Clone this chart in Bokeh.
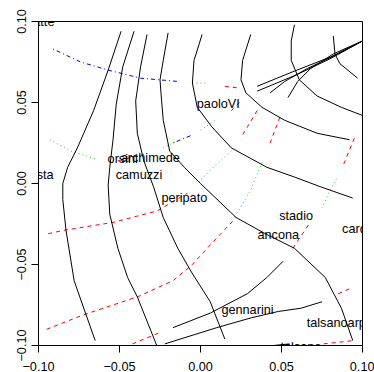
from bokeh.plotting import figure
from bokeh.models import FixedTicker, CustomJSTickFormatter, Range1d, ColumnDataSource
from bokeh.core.properties import value
from bokeh.embed import file_html
from bokeh.resources import INLINE

# ---- axis ticks ----
tick_values = [-0.10, -0.05, 0.00, 0.05, 0.10]
tick_labels = ["\u22120.10", "\u22120.05", "0.00", "0.05", "0.10"]

# ---- black solid curves ----
a_x = [-0.049, -0.057, -0.066, -0.076, -0.082, -0.085, -0.085, -0.083, -0.078, -0.071, -0.065]
a_y = [0.094, 0.070, 0.045, 0.022, 0.010, 0.000, -0.010, -0.029, -0.060, -0.080, -0.097]
b_x = [-0.041, -0.048, -0.052, -0.054, -0.056, -0.057, -0.056, -0.051, -0.045, -0.039, -0.033, -0.027]
b_y = [0.094, 0.072, 0.049, 0.027, 0.010, -0.001, -0.019, -0.040, -0.058, -0.070, -0.085, -0.100]
c_x = [-0.033, -0.037, -0.040, -0.039, -0.035, -0.029, -0.023, -0.014, -0.006, 0.006, 0.015]
c_y = [0.092, 0.072, 0.051, 0.031, 0.014, -0.002, -0.021, -0.040, -0.054, -0.073, -0.096]
d_x = [-0.020, -0.023, -0.025, -0.024, -0.023, -0.019, -0.010, 0.000, 0.022, 0.040, 0.058, 0.077, 0.087, 0.094]
d_y = [0.093, 0.076, 0.064, 0.051, 0.039, 0.020, 0.010, 0.000, -0.021, -0.031, -0.040, -0.058, -0.077, -0.097]
e_x = [0.001, -0.004, -0.005, -0.002, 0.007, 0.019, 0.041, 0.058, 0.074, 0.094]
e_y = [0.092, 0.076, 0.062, 0.047, 0.035, 0.022, 0.010, 0.004, -0.002, -0.009]
f_x = [0.031, 0.026, 0.025, 0.028, 0.038, 0.052, 0.072, 0.092]
f_y = [0.092, 0.076, 0.064, 0.056, 0.047, 0.039, 0.031, 0.027]
g_x = [0.058, 0.056, 0.056, 0.061, 0.072, 0.087, 0.100]
g_y = [0.098, 0.088, 0.076, 0.064, 0.054, 0.047, 0.042]
h_x = [0.082, 0.083, 0.086, 0.097]
h_y = [0.091, 0.080, 0.074, 0.065]
fan1_x = [0.035, 0.057, 0.080, 0.100]
fan1_y = [0.060, 0.069, 0.078, 0.088]
fan2_x = [0.035, 0.059, 0.080, 0.100]
fan2_y = [0.057, 0.067, 0.077, 0.088]
fan3_x = [0.043, 0.052, 0.066, 0.085, 0.100]
fan3_y = [0.056, 0.063, 0.071, 0.080, 0.088]
fan4_x = [0.054, 0.060, 0.068, 0.082, 0.100]
fan4_y = [0.053, 0.063, 0.071, 0.080, 0.088]
gen1_x = [-0.017, 0.006, 0.029, 0.041, 0.051]
gen1_y = [-0.089, -0.080, -0.068, -0.058, -0.048]
gen2_x = [-0.022, 0.010, 0.031, 0.048, 0.062, 0.075]
gen2_y = [-0.099, -0.089, -0.083, -0.079, -0.077, -0.073]
tal1_x = [0.035, 0.055]
tal1_y = [-0.101, -0.099]
tal2_x = [0.040, 0.055]
tal2_y = [-0.101, -0.0995]

# ---- red dashed segments ----
r1_x = [-0.094, -0.085, -0.054, -0.027, -0.008]
r1_y = [-0.031, -0.029, -0.024, -0.017, -0.006]
r2_x = [-0.095, -0.072, -0.039, -0.017, -0.006, 0.006, 0.022]
r2_y = [-0.090, -0.081, -0.070, -0.060, -0.051, -0.038, -0.021]
r3_x = [-0.042, -0.025]
r3_y = [-0.099, -0.092]
r4_x = [0.057, 0.067]
r4_y = [-0.040, -0.025]
r5_x = [0.085, 0.092]
r5_y = [-0.068, -0.065]
r6_x = [0.076, 0.094]
r6_y = [-0.099, -0.097]
r7_x = [-0.051, -0.035]
r7_y = [0.014, 0.018]
r8_x = [0.015, 0.023]
r8_y = [0.060, 0.059]
r9_x = [0.024, 0.019]
r9_y = [0.050, 0.045]
r10_x = [0.035, 0.026]
r10_y = [0.045, 0.030]
r11_x = [0.049, 0.043]
r11_y = [0.041, 0.025]
r12_x = [0.095, 0.088]
r12_y = [0.028, 0.011]

# ---- green dotted segments ----
gr1_x = [-0.093, -0.080, -0.064]
gr1_y = [0.027, 0.020, 0.015]
gr2_x = [-0.023, -0.015]
gr2_y = [0.022, 0.026]
gr3_x = [0.000, 0.009]
gr3_y = [0.033, 0.039]
gr4_x = [-0.005, 0.004]
gr4_y = [0.062, 0.062]
gr5_x = [0.019, 0.009, -0.001]
gr5_y = [0.020, 0.011, 0.001]
gr6_x = [0.038, 0.031, 0.021]
gr6_y = [0.013, -0.004, -0.021]
gr7_x = [0.084, 0.080, 0.075]
gr7_y = [0.003, -0.004, -0.015]

# ---- blue dash-dot segments ----
bl1_x = [-0.091, -0.074, -0.057, -0.037, -0.014]
bl1_y = [0.083, 0.075, 0.070, 0.065, 0.063]
bl2_x = [-0.017, -0.005]
bl2_y = [0.025, 0.030]

# ---- place labels ----
label_names = ["lamatte", "costa", "orsini", "archimede", "camuzzi", "paoloVI", "peripato",
               "stadio", "ancona", "carducci", "gennarini", "talsanoarpa", "talsano"]
label_x = [-0.103, -0.100, -0.048, -0.031, -0.038, 0.011, -0.010,
           0.059, 0.048, 0.102, 0.029, 0.086, 0.062]
label_y = [0.100, 0.005, 0.015, 0.016, 0.005, 0.049, -0.009,
           -0.020, -0.032, -0.028, -0.078, -0.086, -0.101]

FONT = "Liberation Sans"
FS = "12.7px"

p = figure(frame_width=324, frame_height=324, x_range=Range1d(-0.1, 0.1), y_range=Range1d(-0.1, 0.1),
           output_backend="svg", toolbar_location=None,
           min_border_left=38, min_border_right=12, min_border_top=21, min_border_bottom=27)
p.background_fill_color = "white"
p.border_fill_color = "white"
p.xgrid.visible = False
p.ygrid.visible = False
p.outline_line_color = "black"
p.outline_line_width = 1
p.outline_line_alpha = 1.0

fmt = CustomJSTickFormatter(args=dict(tv=tick_values, tl=tick_labels),
                            code="const i = tv.findIndex(t => Math.abs(t - tick) < 1e-9); return i >= 0 ? tl[i] : '';")
for ax in (p.xaxis[0], p.yaxis[0]):
    ax.ticker = FixedTicker(ticks=tick_values)
    ax.formatter = fmt
    ax.minor_tick_line_color = None
    ax.major_tick_in = 0
    ax.major_tick_out = 7
    ax.axis_line_color = "black"
    ax.major_tick_line_color = "black"
    ax.major_label_text_font = FONT
    ax.major_label_text_font_size = FS
    ax.major_label_text_color = "black"
p.xaxis[0].major_label_standoff = 9
p.yaxis[0].major_label_standoff = 6
p.yaxis[0].major_label_orientation = "vertical"

black_src = ColumnDataSource(dict(
    xs=[a_x, b_x, c_x, d_x, e_x, f_x, g_x, h_x, fan1_x, fan2_x, fan3_x, fan4_x, gen1_x, gen2_x, tal1_x, tal2_x],
    ys=[a_y, b_y, c_y, d_y, e_y, f_y, g_y, h_y, fan1_y, fan2_y, fan3_y, fan4_y, gen1_y, gen2_y, tal1_y, tal2_y]))
red_src = ColumnDataSource(dict(
    xs=[r1_x, r2_x, r3_x, r4_x, r5_x, r6_x, r7_x, r8_x, r9_x, r10_x, r11_x, r12_x],
    ys=[r1_y, r2_y, r3_y, r4_y, r5_y, r6_y, r7_y, r8_y, r9_y, r10_y, r11_y, r12_y]))
green_src = ColumnDataSource(dict(
    xs=[gr1_x, gr2_x, gr3_x, gr4_x, gr5_x, gr6_x, gr7_x],
    ys=[gr1_y, gr2_y, gr3_y, gr4_y, gr5_y, gr6_y, gr7_y]))
blue_src = ColumnDataSource(dict(xs=[bl1_x, bl2_x], ys=[bl1_y, bl2_y]))

p.multi_line(xs="xs", ys="ys", source=green_src, line_color="#22cc22", line_width=1, line_dash="1 3")
p.multi_line(xs="xs", ys="ys", source=blue_src, line_color="#0000ff", line_width=1, line_dash="1 3 4 3")
p.multi_line(xs="xs", ys="ys", source=red_src, line_color="#ff0000", line_width=1, line_dash="4 4")
p.multi_line(xs="xs", ys="ys", source=black_src, line_color="black", line_width=1)

lab_src = ColumnDataSource(dict(x=label_x, y=label_y, t=label_names))
p.text(x="x", y="y", text="t", source=lab_src, text_font=value(FONT), text_font_size=value(FS),
       text_align="center", text_baseline="middle", text_color="black")

open("out.html", "w").write(file_html(p, INLINE))
